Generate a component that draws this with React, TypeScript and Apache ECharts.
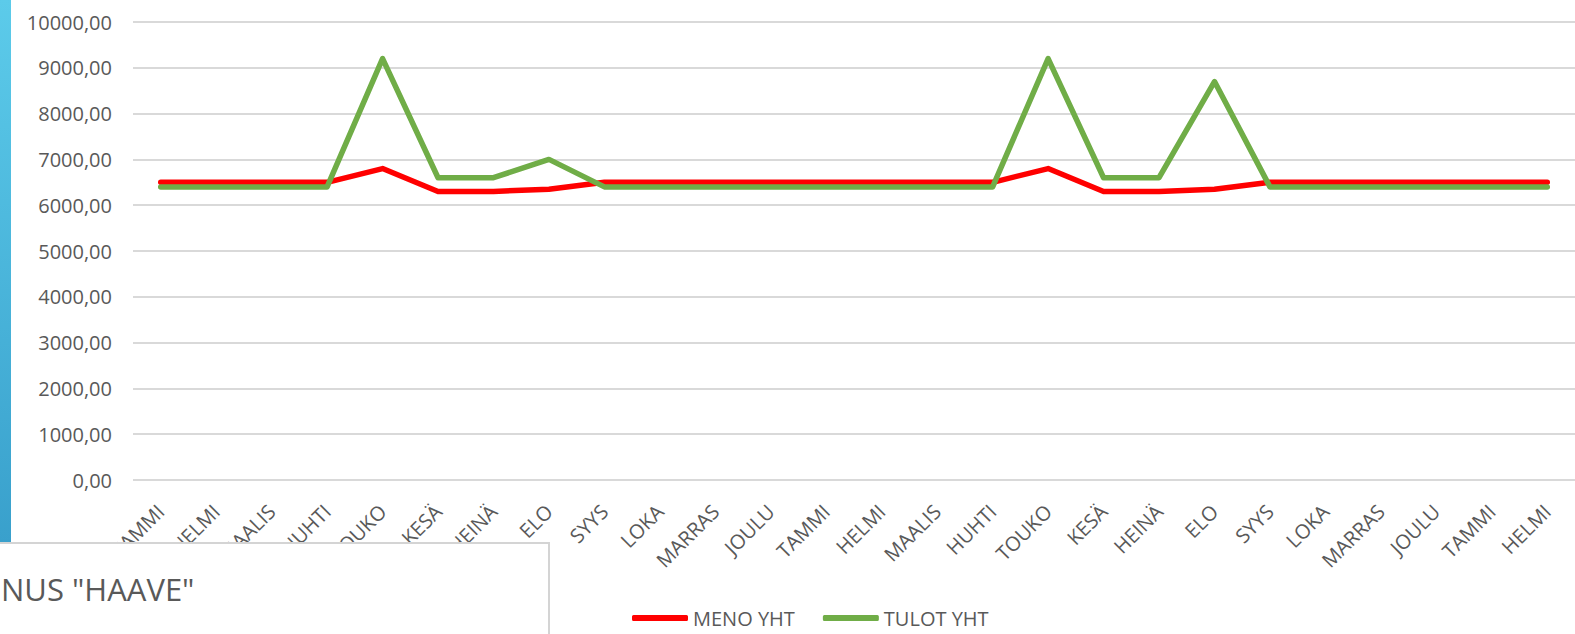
import React, { useEffect, useRef } from "react";
import * as echarts from "echarts";

const months = [
  "TAMMI", "HELMI", "MAALIS", "HUHTI", "TOUKO", "KESÄ", "HEINÄ", "ELO", "SYYS", "LOKA", "MARRAS", "JOULU",
  "TAMMI", "HELMI", "MAALIS", "HUHTI", "TOUKO", "KESÄ", "HEINÄ", "ELO", "SYYS", "LOKA", "MARRAS", "JOULU",
  "TAMMI", "HELMI",
];

const menoYht = [
  6500, 6500, 6500, 6500, 6800, 6300, 6300, 6350, 6500, 6500, 6500, 6500,
  6500, 6500, 6500, 6500, 6800, 6300, 6300, 6350, 6500, 6500, 6500, 6500,
  6500, 6500,
];

const tulotYht = [
  6400, 6400, 6400, 6400, 9200, 6600, 6600, 7000, 6400, 6400, 6400, 6400,
  6400, 6400, 6400, 6400, 9200, 6600, 6600, 8700, 6400, 6400, 6400, 6400,
  6400, 6400,
];

const seriesNames = ["MENO YHT", "TULOT YHT"];
const titleFragment = 'NUS "HAAVE"';

const FONT = "'Open Sans', 'Noto Sans', sans-serif";
const TEXT = "#595959";

export default function App() {
  const ref = useRef<HTMLDivElement>(null);

  useEffect(() => {
    if (!ref.current) return;
    const chart = echarts.init(ref.current, null, { renderer: "svg" });
    chart.setOption({
      animation: false,
      backgroundColor: "#ffffff",
      grid: { left: 133, top: 22, width: 1443, height: 458, containLabel: false },
      legend: {
        left: 627,
        top: 603,
        itemWidth: 56,
        itemHeight: 6,
        itemGap: 28,
        icon: "roundRect",
        textStyle: { fontFamily: FONT, fontSize: 20, color: TEXT },
        data: seriesNames,
      },
      xAxis: {
        type: "category",
        data: months,
        boundaryGap: true,
        axisLine: { show: false },
        axisTick: { show: false },
        axisLabel: {
          interval: 0,
          rotate: 45,
          margin: 28,
          fontFamily: FONT,
          fontSize: 20,
          color: TEXT,
        },
      },
      yAxis: {
        type: "value",
        min: 0,
        max: 10000,
        interval: 1000,
        axisLine: { show: false },
        axisTick: { show: false },
        splitLine: { lineStyle: { color: "#d9d9d9", width: 2 } },
        axisLabel: {
          margin: 21,
          fontFamily: FONT,
          fontSize: 20,
          color: TEXT,
          formatter: (v: number) => v.toFixed(2).replace(".", ","),
        },
      },
      series: [
        {
          name: seriesNames[0],
          type: "line",
          data: menoYht,
          symbol: "none",
          lineStyle: { color: "#ff0000", width: 5.5, join: "round", cap: "round" },
          itemStyle: { color: "#ff0000" },
        },
        {
          name: seriesNames[1],
          type: "line",
          data: tulotYht,
          symbol: "none",
          lineStyle: { color: "#70ad47", width: 5.5, join: "round", cap: "round" },
          itemStyle: { color: "#70ad47" },
        },
      ],
      graphic: [
        {
          type: "rect",
          z: 100,
          shape: { x: 0, y: 0, width: 11, height: 543 },
          style: {
            fill: new echarts.graphic.LinearGradient(0, 0, 0, 1, [
              { offset: 0, color: "#5ccbea" },
              { offset: 1, color: "#39a0cc" },
            ]),
          },
        },
        {
          type: "rect",
          z: 100,
          shape: { x: -10, y: 543, width: 559, height: 120 },
          style: { fill: "#ffffff", stroke: "#d4d4d4", lineWidth: 2 },
        },
        {
          type: "text",
          z: 101,
          x: 1,
          y: 589,
          style: {
            text: titleFragment,
            fontFamily: FONT,
            fontSize: 31,
            fill: TEXT,
            verticalAlign: "middle",
          },
        },
      ],
    });
    return () => chart.dispose();
  }, []);

  return (
    <div
      ref={ref}
      style={{ position: "absolute", left: 0, top: 0, width: 1575, height: 634 }}
    />
  );
}
